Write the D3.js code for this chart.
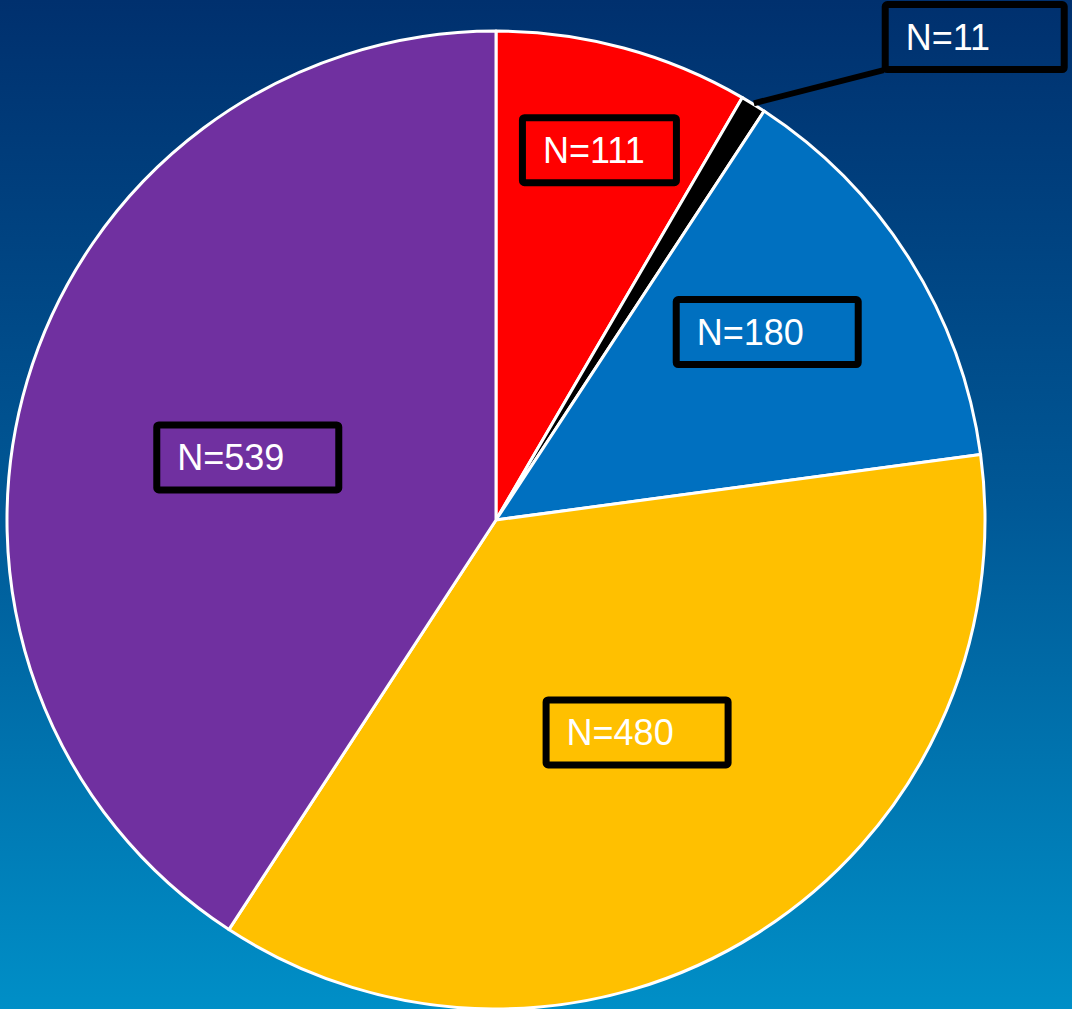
<!DOCTYPE html>
<html>
<head>
<meta charset="utf-8">
<script src="https://cdn.jsdelivr.net/npm/d3@7"></script>
<style>
  html, body { margin: 0; padding: 0; background: #00306e; }
  svg { display: block; }
</style>
</head>
<body>
<div id="chart"></div>
<script>
// data
var categories = ["A", "B", "C", "D", "E"];
var counts = [111, 11, 180, 480, 539];
var labels = ["N=111", "N=11", "N=180", "N=480", "N=539"];
var colors = ["#ff0000", "#000000", "#0070c0", "#ffc000", "#7030a0"];

// label layout: radius from centre and angle nudge (degrees), box width
var labelR = [384, 680, 330, 255, 256];
var labelNudge = [0.5, 13, -2.5, -1.3, -2.4];
var boxW = [161, 186, 189, 189, 189];
var boxH = 72;

var W = 1072, H = 1009;
var cx = 496, cy = 520, R = 489;

var svg = d3.select("#chart").append("svg")
    .attr("width", W)
    .attr("height", H);

var defs = svg.append("defs");
var grad = defs.append("linearGradient")
    .attr("id", "bg")
    .attr("x1", 0).attr("y1", 0).attr("x2", 0).attr("y2", 1);
grad.append("stop").attr("offset", "0%").attr("stop-color", "#00306e");
grad.append("stop").attr("offset", "50%").attr("stop-color", "#005896");
grad.append("stop").attr("offset", "100%").attr("stop-color", "#008fc7");

svg.append("rect")
    .attr("width", W)
    .attr("height", H)
    .attr("fill", "url(#bg)");

var pie = d3.pie().sort(null).value(function(d) { return d; });
var arcs = pie(counts);
var arc = d3.arc().innerRadius(0).outerRadius(R);

var g = svg.append("g")
    .attr("transform", "translate(" + cx + "," + cy + ")");

g.selectAll("path.slice")
    .data(arcs)
    .enter().append("path")
    .attr("class", "slice")
    .attr("d", arc)
    .attr("fill", function(d, i) { return colors[i]; })
    .attr("stroke", "#ffffff")
    .attr("stroke-width", 3)
    .attr("stroke-linejoin", "round");

function polar(r, a) {
    return [r * Math.sin(a), -r * Math.cos(a)];
}

// label boxes
arcs.forEach(function(d, i) {
    var mid = (d.startAngle + d.endAngle) / 2;
    var p = polar(labelR[i], mid + labelNudge[i] * Math.PI / 180);
    var x0 = p[0] - boxW[i] / 2;
    var y0 = p[1] - boxH / 2;

    if (i === 1) {
        // leader line for the tiny slice
        var e = polar(R + 1, mid);
        g.append("line")
            .attr("x1", e[0]).attr("y1", e[1])
            .attr("x2", x0 + 2).attr("y2", y0 + boxH - 3)
            .attr("stroke", "#000")
            .attr("stroke-width", 6);
    }

    g.append("rect")
        .attr("x", x0 + 3.5)
        .attr("y", y0 + 3.5)
        .attr("width", boxW[i] - 7)
        .attr("height", boxH - 7)
        .attr("rx", 2)
        .attr("fill", "none")
        .attr("stroke", "#000")
        .attr("stroke-width", 7)
        .attr("stroke-linejoin", "round");

    g.append("text")
        .attr("x", x0 + 24)
        .attr("y", y0 + 49)
        .attr("fill", "#ffffff")
        .style("font-family", "'Liberation Sans', Arial, sans-serif")
        .style("font-size", "36px")
        .text(labels[i]);
});
</script>
</body>
</html>
